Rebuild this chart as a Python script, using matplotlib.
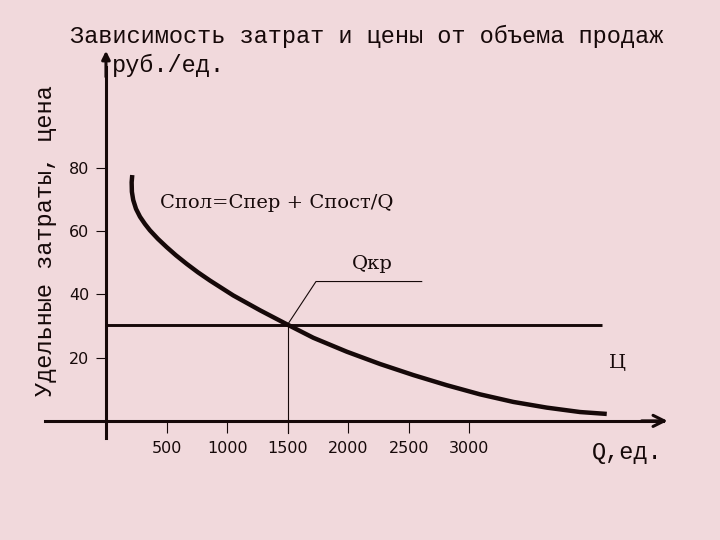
import matplotlib
matplotlib.use("Agg")
import matplotlib.pyplot as plt

# colours
bg = "#f1d9dc"
ink = "#160909"

# data
q_curve = [217, 212, 214, 225, 248, 281, 322, 363, 429, 501, 578, 666, 760, 859,
           1051, 1272, 1492, 1712, 1988, 2263, 2538, 2813, 3088, 3363, 3639,
           3914, 4135]
cost_curve = [77.8, 75.5, 72.5, 69.9, 67.1, 64.6, 62.3, 60.3, 57.6, 55.0, 52.4,
              49.7, 47.0, 44.4, 39.7, 35.0, 30.6, 26.3, 21.9, 18.0, 14.5, 11.3,
              8.4, 6.0, 4.2, 2.8, 2.2]
price = 30.2
price_q_end = 4093
q_kr = 1500
x_ticks = [500, 1000, 1500, 2000, 2500, 3000]
y_ticks = [20, 40, 60, 80]
kr_leader_q = [1500, 1734, 2607]
kr_leader_c = [30.5, 44.1, 44.1]

fig = plt.figure(figsize=(7.2, 5.4), dpi=100, facecolor=bg)
ax = fig.add_axes([0, 0, 1, 1])
ax.set_facecolor(bg)
ax.set_xlim(-875, 5070)
ax.set_ylim(-37.7, 133.2)

# axes through the origin
for side in ["top", "right"]:
    ax.spines[side].set_visible(False)
ax.spines["left"].set_position(("data", 0))
ax.spines["bottom"].set_position(("data", 0))
ax.spines["left"].set_bounds(-5.4, 112)
ax.spines["bottom"].set_bounds(-504, 4600)
for side in ["left", "bottom"]:
    ax.spines[side].set_linewidth(2.2)
    ax.spines[side].set_color(ink)

ax.annotate("", xy=(4660, 0), xytext=(4400, 0),
            arrowprops=dict(arrowstyle="->", lw=2.2, color=ink, mutation_scale=20))
ax.annotate("", xy=(0, 118), xytext=(0, 108),
            arrowprops=dict(arrowstyle="-|>", lw=2.2, color=ink, mutation_scale=12))

ax.set_xticks(x_ticks)
ax.set_xticklabels([str(t) for t in x_ticks])
ax.set_yticks(y_ticks)
ax.set_yticklabels([str(t) for t in y_ticks])
ax.tick_params(axis="x", direction="out", length=8.6, width=0.8, color=ink,
               pad=6, labelsize=11.5, labelcolor=ink)
ax.tick_params(axis="y", direction="out", length=7, width=0.8, color=ink,
               pad=5, labelsize=11.5, labelcolor=ink)

# price line, cost curve, break-even
ax.plot([0, price_q_end], [price, price], color=ink, lw=2.1, solid_capstyle="butt")
ax.plot(q_curve, cost_curve, color=ink, lw=3.2, solid_capstyle="butt",
        solid_joinstyle="round")
ax.plot([q_kr, q_kr], [-3.8, price], color=ink, lw=0.8)
ax.plot(kr_leader_q, kr_leader_c, color=ink, lw=0.8)

serif = "DejaVu Serif"
ax.text(446, 69, "Спол=Спер + Спост/Q", family=serif, size=14,
        color=ink, ha="left", va="center")
ax.text(2196, 49.7, "Qкр", family=serif, size=14, color=ink,
        ha="center", va="center")
ax.text(4220, 18.4, "Ц", family=serif, size=14, color=ink,
        ha="center", va="center")

mono = "Liberation Mono"
fig.text(367 / 720, 1 - 36 / 540, "Зависимость затрат и цены от объема продаж",
         family=mono, size=17, color=ink, ha="center", va="center")
fig.text(112 / 720, 1 - 65 / 540, "руб./ед.", family=mono, size=17,
         color=ink, ha="left", va="center")
fig.text(46 / 720, 1 - 241 / 540, "Удельные затраты, цена", family=mono,
         size=17, color=ink, ha="center", va="center", rotation=90)
fig.text(627 / 720, 1 - 452 / 540, "Q,ед.", family=mono, size=17,
         color=ink, ha="center", va="center")

fig.savefig("out.png", dpi=100, facecolor=bg)
